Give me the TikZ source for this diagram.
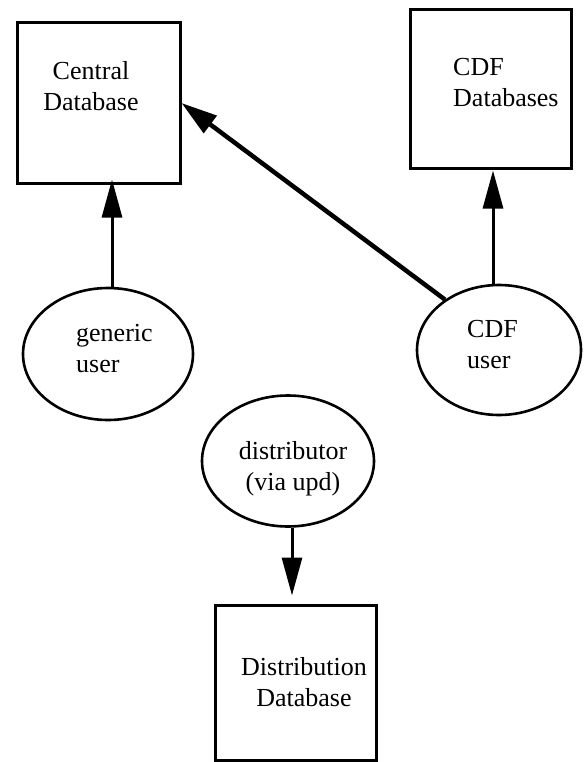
\documentclass[tikz,border=0pt]{standalone}
\usepackage{fontspec}
\setmainfont{Liberation Serif}
\usetikzlibrary{arrows.meta,shapes.geometric}
\begin{document}
\begin{tikzpicture}[x=1pt,y=-1pt,
  dbbox/.style={draw, line width=3pt, inner sep=0pt},
  useroval/.style={draw, ellipse, line width=2.6pt, inner sep=0pt},
  txt/.style={font=\fontsize{26}{31}\selectfont, inner sep=0pt},
  arr/.style={line width=3pt, -{Triangle[length=38pt,width=20pt]}},
  diagarr/.style={line width=4.5pt, -{Triangle[length=36pt,width=21pt]}}]
\useasboundingbox (0,0) rectangle (583,762);
% boxes
\node[dbbox, minimum width=163pt, minimum height=160pt] (cdb) at (98.5,103) {};
\node[txt, align=center] (cdbt) at (91,86) {Central\\Database};
\node[dbbox, minimum width=161pt, minimum height=159pt] (cdfdb) at (490.5,89.5) {};
\node[txt, align=left, anchor=west] (cdfdbt) at (453,83) {CDF\\Databases};
\node[dbbox, minimum width=161pt, minimum height=155pt] (dd) at (295.5,682.5) {};
\node[txt, align=center] (ddt) at (304,682.5) {Distribution\\Database};
% ellipses
\node[useroval, minimum width=170pt, minimum height=132pt] (gu) at (108,354) {};
\node[txt, align=left, anchor=west] (gut) at (76,348.5) {generic\\user};
\node[useroval, minimum width=164pt, minimum height=130pt] (cu) at (499,350) {};
\node[txt, align=left, anchor=west] (cut) at (467,345) {CDF\\user};
\node[useroval, minimum width=172pt, minimum height=131pt] (dist) at (288,461) {};
\node[txt, align=center] (distt) at (293,469) {distributor\\(via upd)};
% connectors
\coordinate (gus) at ([xshift=4pt]gu.north);
\coordinate (cus) at ([xshift=-6pt]cu.north);
\coordinate (dists) at ([xshift=4pt]dist.south);
\draw[arr, shorten >=-5pt] (gus) -- (gus |- cdb.south);
\draw[arr] (cus) -- (cus |- cdfdb.south);
\draw[diagarr] (cu.137) -- (cdb.east);
\draw[arr, shorten >=8pt] (dists) -- (dists |- dd.north);
\end{tikzpicture}
\end{document}
